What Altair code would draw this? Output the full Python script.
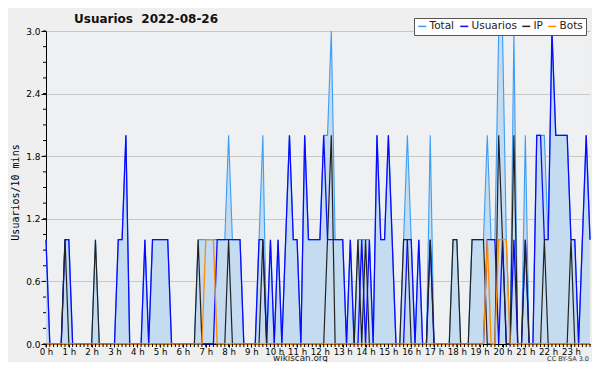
import altair as alt
import pandas as pd

# 10-minute slots of 2022-08-26 (index 0 = 00:00, 143 = 23:50)
usuarios = [1,0,0,0,0,1,1,0,0,0, 0,0,0,0,0,0,0,0,0,1,
            1,2,0,0,0,0,1,0,1,1, 1,1,1,0,0,0,0,0,0,0,
            0,0,0,0,0,1,1,1,1,1, 1,1,0,0,0,0,1,1,0,1,
            0,1,0,1,2,1,1,0,2,1, 1,1,1,2,1,1,1,1,1,0,
            1,0,0,1,0,1,0,2,1,1, 2,1,0,0,0,1,1,0,1,0,
            0,1,0,0,0,0,0,0,0,0, 0,0,0,0,0,0,1,1,1,0,
            1,0,0,1,0,0,1,0,0,2, 2,1,1,3,2,2,2,2,1,1,
            0,1,2,1]
total = [1,0,0,0,0,1,1,0,0,0, 0,0,0,1,0,0,0,0,0,1,
         1,2,0,0,0,0,1,0,1,1, 1,1,1,0,0,0,0,0,0,0,
         1,1,1,1,1,1,1,1,2,1, 1,1,0,0,0,0,1,2,0,1,
         0,1,0,1,2,1,1,0,2,1, 1,1,1,2,2,3,1,1,1,0,
         1,0,1,1,1,1,0,2,1,1, 2,1,0,0,1,2,1,0,1,0,
         0,2,0,0,0,0,0,1,1,0, 0,0,1,1,1,1,2,1,1,3,
         3,1,0,3,0,0,2,0,0,2, 2,2,1,3,2,2,2,2,1,1,
         0,1,2,1]
ip = [0,0,0,0,0,1,0,0,0,0, 0,0,0,1,0,0,0,0,0,0,
      0,0,0,0,0,0,0,0,0,0, 0,0,0,0,0,0,0,0,0,0,
      1,0,0,0,0,0,0,0,1,0, 0,0,0,0,0,0,0,1,0,0,
      0,0,0,0,0,0,0,0,0,0, 0,0,0,0,1,2,0,0,0,0,
      0,0,1,0,1,0,0,0,0,0, 0,0,0,0,1,1,0,0,0,0,
      0,1,0,0,0,0,0,1,1,0, 0,0,1,1,1,1,0,0,0,2,
      1,0,0,2,0,0,1,0,0,0, 0,1,0,0,0,0,0,0,1,0,
      0,0,0,0]
bots = [0]*144
for k in [42, 43, 44, 116, 119, 120, 121]:
    bots[k] = 1

series_names = ["Total", "Usuarios", "IP", "Bots"]
series_colors = ["#3d9df5", "#0a0aff", "#222222", "#ff8c00"]
hour_ticks = [0, 6, 12, 18, 24, 30, 36, 42, 48, 54, 60, 66, 72, 78, 84, 90,
              96, 102, 108, 114, 120, 126, 132, 138]
y_ticks = [0, 0.6, 1.2, 1.8, 2.4, 3.0]
y_minor = [0, 0.15, 0.3, 0.45, 0.6, 0.75, 0.9, 1.05, 1.2, 1.35, 1.5, 1.65, 1.8,
           1.95, 2.1, 2.25, 2.4, 2.55, 2.7, 2.85, 3.0]
title_text = "Usuarios\u00a0\u00a02022-08-26"
credit_text = "CC BY-SA 3.0"

slots = list(range(144))
rows = []
for name, vals in zip(series_names, [total, usuarios, ip, bots]):
    for i, v in enumerate(vals):
        rows.append({"slot": i, "value": v, "serie": name})
df = pd.DataFrame(rows)
df_total = pd.DataFrame({"slot": slots, "value": total})

xscale = alt.Scale(domain=[0, 143], nice=False, zero=False)
yscale = alt.Scale(domain=[0, 3], nice=False)
cscale = alt.Scale(domain=series_names, range=series_colors)

xaxis = alt.Axis(values=hour_ticks, labelExpr="datum.value/6 + ' h'",
                 labelFontSize=8.6, labelFont="DejaVu Sans", labelColor="#000",
                 tickColor="#000", domainColor="#000", tickSize=3, labelPadding=0,
                 labelOverlap=False, labelSeparation=0, grid=False,
                 title="wikiscan.org", titleFont="DejaVu Sans",
                 titleFontSize=8.8, titleFontWeight="normal", titleColor="#222",
                 titleX=254, titleY=16.5, titleAlign="center",
                 titleBaseline="alphabetic", labelFlush=False)
yaxis = alt.Axis(values=y_ticks, format=".1f", labelFontSize=9,
                 labelFont="DejaVu Sans", labelColor="#000", tickColor="#000",
                 domainColor="#000", tickSize=5, labelPadding=1, grid=True,
                 gridColor="#c8c8c8", title="Usuarios/10 mins",
                 titleFont="DejaVu Sans Mono", titleFontSize=10,
                 titleFontWeight="normal", titleColor="#000", titleX=-31,
                 titleY=161, titleAlign="center", titleBaseline="middle",
                 titleAngle=270)

X = alt.X("slot:Q", scale=xscale, axis=xaxis)
Y = alt.Y("value:Q", scale=yscale, axis=yaxis)

area = alt.Chart(df_total).mark_area(color="#c5dbf0", opacity=1).encode(x=X, y=Y)

legend = alt.Legend(title=None, orient="none", legendX=368, legendY=-13,
                    direction="horizontal", symbolType="stroke",
                    symbolStrokeWidth=1.5, symbolSize=64, labelFontSize=10.5,
                    labelFont="DejaVu Sans", labelColor="#222", columnPadding=2,
                    labelOffset=2, padding=3, fillColor="#ffffff",
                    strokeColor="#555555", symbolOffset=0)

def line_layer(name, width):
    return alt.Chart(df).transform_filter(
        alt.datum.serie == name
    ).mark_line(strokeWidth=width).encode(
        x=X, y=Y,
        color=alt.Color("serie:N", scale=cscale, legend=legend),
    )

minor_x = alt.Chart(pd.DataFrame({"slot": slots})).mark_rule(
    color="#000", strokeWidth=1).encode(
    x=X, y=alt.value(313), y2=alt.value(316))
minor_y = alt.Chart(pd.DataFrame({"value": y_minor})).mark_rule(
    color="#000", strokeWidth=1).encode(
    y=Y, x=alt.value(-3), x2=alt.value(0))

cc = alt.Chart(pd.DataFrame({"t": [credit_text]})).mark_text(
    align="right", baseline="alphabetic", fontSize=6.5, font="DejaVu Sans",
    color="#333").encode(x=alt.value(543), y=alt.value(329.5), text="t:N")

ttl = alt.Chart(pd.DataFrame({"t": [title_text]})).mark_text(
    align="left", baseline="alphabetic", fontSize=12, font="DejaVu Sans",
    fontWeight="bold", color="#111").encode(
    x=alt.value(28), y=alt.value(-8), text="t:N")

chart = alt.layer(
    area,
    line_layer("Total", 1.1),
    line_layer("Usuarios", 1.3),
    line_layer("IP", 1.2),
    line_layer("Bots", 1.3),
    minor_x, minor_y, cc, ttl,
).properties(
    width=544, height=313,
    autosize=alt.AutoSizeParams(type="none"),
    padding={"left": 38, "top": 23, "right": 2, "bottom": 18},
    background="#efefef",
).configure_view(fill="#eef0f2", stroke=None).configure_axis(
    labelOverlap=False)

chart.save("out.html", embed_options={"renderer": "svg", "actions": False})
